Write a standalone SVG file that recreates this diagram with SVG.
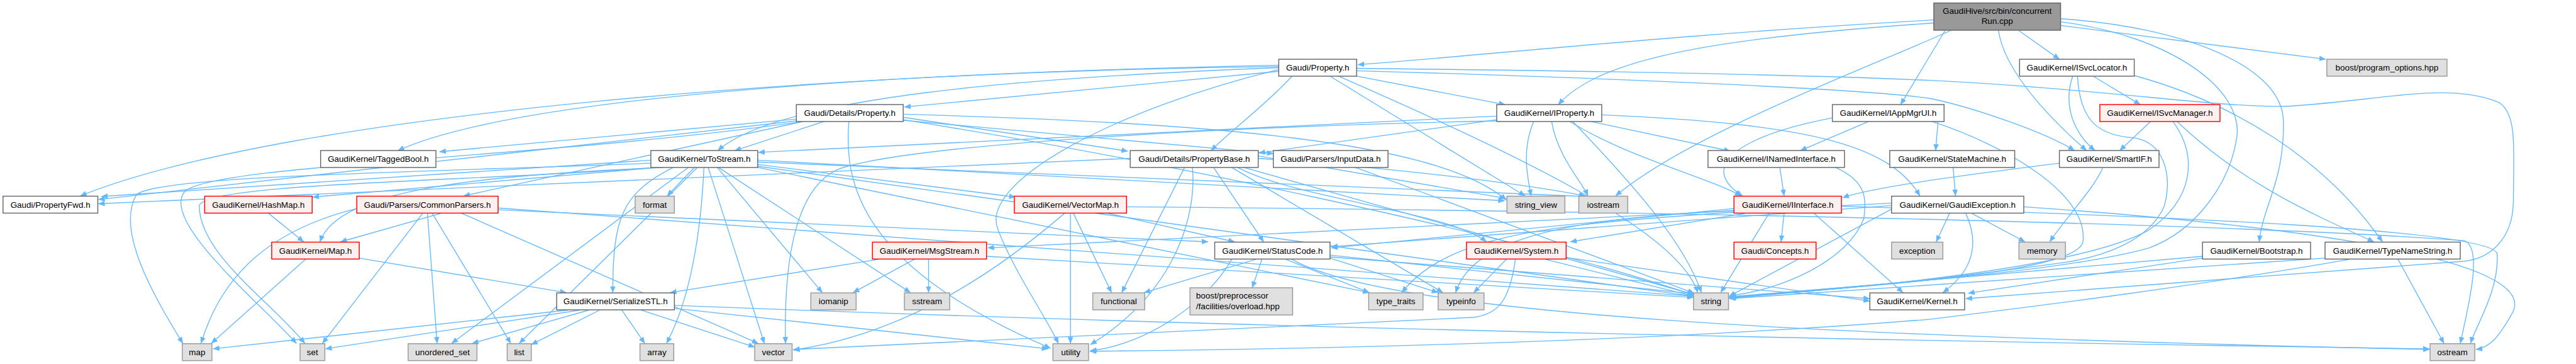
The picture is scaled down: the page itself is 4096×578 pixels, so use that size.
<svg xmlns="http://www.w3.org/2000/svg" width="4096" height="578" viewBox="0 0 4096 578">
<style>
text{font-family:"Liberation Sans",Arial,sans-serif;font-size:14px;fill:#000;text-anchor:middle}
.n rect{fill:#fff;stroke:#666;stroke-width:1.5}
.r rect{fill:#fff0f0;stroke:#f00;stroke-width:1.5}
.s rect{fill:#e0e0e0;stroke:#999;stroke-width:1.5}
.m rect{fill:#999;stroke:#666;stroke-width:1.5}
#edges path{fill:none;stroke:#63b8ff;stroke-width:1.4;marker-end:url(#a)}
</style>
<defs>
<marker id="a" markerUnits="userSpaceOnUse" markerWidth="11" markerHeight="9" viewBox="0 0 11 9" refX="10.5" refY="4.5" orient="auto"><path d="M0,0 L11,4.5 L0,9 z" fill="#63b8ff"/></marker>
</defs>
<rect width="4096" height="578" fill="#fff"/>
<g transform="scale(0.96)">
<g id="edges">
<path d="M3203,33 C2800,55 2450,92 2249,107"/>
<path d="M3203,38 C2850,62 2650,95 2581,173"/>
<path d="M3222,50 L3148,173"/>
<path d="M3310,50 C3320,120 3400,200 3456,249"/>
<path d="M3343,50 L3411,98"/>
<path d="M3413,42 L3852,98"/>
<path d="M3413,31 C3620,45 3780,110 3782,200 C3784,300 3748,340 3742,400"/>
<path d="M3232,50 C3100,110 2800,220 2676,324"/>
<path d="M3413,36 C3600,60 3715,150 3705,225 C3695,300 3640,380 3560,410 C3400,455 3000,478 2864,491"/>
<path d="M2118,118 L1498,177"/>
<path d="M2140,126 C2100,170 2040,215 2006,249"/>
<path d="M2118,112 C1700,128 1290,160 1189,249"/>
<path d="M2118,108 C1600,118 880,150 659,249"/>
<path d="M2118,110 C1400,118 480,185 133,324"/>
<path d="M2247,126 L2493,173"/>
<path d="M2203,126 L2526,324"/>
<path d="M2217,126 C2500,250 2780,380 2812,484"/>
<path d="M2118,115 C1850,180 1620,300 1653,380 C1680,450 1730,520 1753,568"/>
<path d="M2247,113 C2700,118 3000,124 3198,133 C3500,148 3700,182 3800,175 C3950,165 4060,135 4140,170 C4170,190 4163,250 4163,330 C4163,400 4120,428 4082,432 C3700,462 3400,484 3256,494"/>
<path d="M2247,117 C2700,130 3100,148 3198,163 C3270,178 3390,220 3436,249"/>
<path d="M1319,197 L728,251"/>
<path d="M1319,200 L163,330"/>
<path d="M1330,201 L768,324"/>
<path d="M1365,201 L1217,249"/>
<path d="M1496,194 L1868,250"/>
<path d="M1496,199 L2109,254"/>
<path d="M1406,201 C1398,300 1420,440 1740,576"/>
<path d="M1496,189 C2000,203 2380,232 2495,331"/>
<path d="M1496,198 C1900,262 2500,385 2805,488"/>
<path d="M1330,201 C900,262 340,272 305,318 C268,368 430,500 491,568"/>
<path d="M2635,201 L2866,250"/>
<path d="M2600,201 C2700,262 2820,290 2884,324"/>
<path d="M2479,198 L2085,253"/>
<path d="M2479,192 L1256,252"/>
<path d="M2540,201 C2520,250 2530,292 2536,324"/>
<path d="M2570,201 C2580,260 2620,300 2630,324"/>
<path d="M2605,201 C2700,300 2790,400 2818,484"/>
<path d="M2479,200 C2000,210 1500,240 1388,280 C1320,310 1298,420 1301,568"/>
<path d="M2653,190 C3000,205 3130,240 3180,324"/>
<path d="M3095,201 L2982,249"/>
<path d="M3210,201 L3206,249"/>
<path d="M3035,195 C2880,225 2810,275 2886,324"/>
<path d="M3200,201 C3320,240 3460,320 3450,400 C3440,452 3100,472 2864,492"/>
<path d="M3433,126 C3415,180 3440,225 3470,249"/>
<path d="M3441,126 C3445,200 3475,224 3535,228 C3585,236 3598,290 3585,340 C3560,400 3480,425 3420,434 C3200,465 3000,482 2865,493"/>
<path d="M3467,126 L3545,173"/>
<path d="M3535,125 C3700,170 3850,262 3946,400"/>
<path d="M3562,201 L3511,249"/>
<path d="M3599,201 C3642,260 3632,330 3560,380 C3450,442 3100,476 2865,491"/>
<path d="M3606,201 C3710,300 3820,350 3932,400"/>
<path d="M2948,277 L2955,324"/>
<path d="M3040,277 C3092,300 3092,330 3087,362 C3060,432 2950,480 2865,489"/>
<path d="M3235,277 L3239,324"/>
<path d="M3411,270 C3250,290 3100,310 3052,327"/>
<path d="M3483,277 C3470,310 3420,362 3395,400"/>
<path d="M2955,353 L2950,400"/>
<path d="M2872,345 L2205,410"/>
<path d="M2890,353 L2601,400"/>
<path d="M2872,351 C2600,370 2400,382 2322,484"/>
<path d="M2872,348 C2600,362 2440,392 2411,484"/>
<path d="M2930,353 L2850,484"/>
<path d="M3005,353 L3152,484"/>
<path d="M3050,341 C3600,358 4130,380 4136,420 C4140,480 4100,540 4092,568"/>
<path d="M3229,353 L3207,400"/>
<path d="M3266,353 L3354,400"/>
<path d="M3256,353 C3282,410 3262,452 3218,484"/>
<path d="M3133,346 L2864,490"/>
<path d="M3133,340 L2205,408"/>
<path d="M3133,336 L1636,410"/>
<path d="M3352,342 C3900,380 4210,440 4160,520 C4140,555 4125,575 4101,578"/>
<path d="M3648,427 L3260,485"/>
<path d="M3648,424 L2864,492"/>
<path d="M3972,429 L4048,568"/>
<path d="M3851,427 L2864,494"/>
<path d="M3891,429 C3600,480 3300,515 3198,528 C2800,560 2300,576 1805,581"/>
<path d="M1872,262 L163,337"/>
<path d="M1962,277 L1858,484"/>
<path d="M1975,277 C1982,350 1952,480 1806,570"/>
<path d="M2010,277 L2093,400"/>
<path d="M2084,258 L2494,328"/>
<path d="M2084,262 C2300,278 2500,300 2626,324"/>
<path d="M2060,277 L2805,487"/>
<path d="M2040,277 L2390,484"/>
<path d="M2050,277 C2150,330 2400,350 2462,400"/>
<path d="M2245,277 L2806,485"/>
<path d="M1078,265 L168,325"/>
<path d="M1090,277 L518,326"/>
<path d="M1100,277 C800,290 560,312 530,400"/>
<path d="M1078,270 C700,285 262,290 226,322 C198,370 230,452 303,568"/>
<path d="M1085,277 C800,300 340,302 330,340 C330,420 450,500 505,568"/>
<path d="M1140,277 L748,568"/>
<path d="M1155,277 L860,568"/>
<path d="M1115,277 C1030,320 1015,360 1015,484"/>
<path d="M1150,277 L1105,324"/>
<path d="M1166,277 C1160,400 1140,500 1104,568"/>
<path d="M1173,277 L1266,568"/>
<path d="M1188,277 L1362,484"/>
<path d="M1190,277 L1508,484"/>
<path d="M1255,272 L1682,326"/>
<path d="M1255,268 L2626,325"/>
<path d="M1255,265 L2492,332"/>
<path d="M1255,275 L2805,490"/>
<path d="M1255,277 L2268,484"/>
<path d="M730,353 L564,400"/>
<path d="M591,345 C450,380 368,452 333,568"/>
<path d="M700,353 L534,568"/>
<path d="M708,353 L724,568"/>
<path d="M716,353 L846,568"/>
<path d="M765,353 L1256,568"/>
<path d="M825,347 L2001,400"/>
<path d="M825,344 L2805,490"/>
<path d="M445,353 L503,400"/>
<path d="M506,429 L350,568"/>
<path d="M595,427 L938,484"/>
<path d="M940,513 L353,577"/>
<path d="M960,513 L539,577"/>
<path d="M975,513 L782,568"/>
<path d="M993,513 L880,570"/>
<path d="M1030,513 L1068,568"/>
<path d="M1062,513 L1250,574"/>
<path d="M1117,510 L1736,577"/>
<path d="M1117,505 C2000,540 3000,562 4024,577"/>
<path d="M1455,429 L1110,484"/>
<path d="M1514,429 L1413,484"/>
<path d="M1538,429 L1538,484"/>
<path d="M1634,424 L2805,492"/>
<path d="M1778,353 L1841,484"/>
<path d="M1773,353 L1773,568"/>
<path d="M1763,353 C1650,450 1500,552 1314,579"/>
<path d="M1836,353 L2045,400"/>
<path d="M1866,342 C2800,350 3700,370 4082,398 C4112,410 4090,500 4075,568"/>
<path d="M2080,429 L1895,484"/>
<path d="M2090,429 L2074,476"/>
<path d="M2040,429 C2000,500 1900,570 1806,580"/>
<path d="M2130,429 L2268,484"/>
<path d="M2203,422 L2805,486"/>
<path d="M2203,425 L3097,494"/>
<path d="M2140,429 C2300,520 3000,556 4024,578"/>
<path d="M2203,427 L2382,484"/>
<path d="M2495,429 L2441,484"/>
<path d="M2560,429 L2805,490"/>
<path d="M2594,426 L3097,498"/>
<path d="M2510,429 C2500,500 2480,520 2440,525 C2000,546 1500,570 1314,578"/>
</g>
<g id="n_main" class="m"><rect x="3203" y="5" width="210" height="45"/><text x="3308" y="23">GaudiHive/src/bin/concurrent</text><text x="3308" y="40">Run.cpp</text></g>
<g id="n_property" class="n"><rect x="2118" y="98" width="129" height="28"/><text x="2182.5" y="117">Gaudi/Property.h</text></g>
<g id="n_isvclocator" class="n"><rect x="3345" y="98" width="190" height="28"/><text x="3440" y="117">GaudiKernel/ISvcLocator.h</text></g>
<g id="n_boostpo" class="s"><rect x="3854" y="98" width="199" height="28"/><text x="3953.5" y="117">boost/program_options.hpp</text></g>
<g id="n_detailsproperty" class="n"><rect x="1319" y="173" width="177" height="28"/><text x="1407.5" y="192">Gaudi/Details/Property.h</text></g>
<g id="n_iproperty" class="n"><rect x="2479" y="173" width="174" height="28"/><text x="2566" y="192">GaudiKernel/IProperty.h</text></g>
<g id="n_iappmgrui" class="n"><rect x="3035" y="173" width="185" height="28"/><text x="3127.5" y="192">GaudiKernel/IAppMgrUI.h</text></g>
<g id="n_isvcmanager" class="r"><rect x="3478" y="173" width="199" height="28"/><text x="3577.5" y="192">GaudiKernel/ISvcManager.h</text></g>
<g id="n_taggedbool" class="n"><rect x="531" y="249" width="191" height="28"/><text x="626.5" y="268">GaudiKernel/TaggedBool.h</text></g>
<g id="n_tostream" class="n"><rect x="1078" y="249" width="177" height="28"/><text x="1166.5" y="268">GaudiKernel/ToStream.h</text></g>
<g id="n_propertybase" class="n"><rect x="1872" y="249" width="212" height="28"/><text x="1978" y="268">Gaudi/Details/PropertyBase.h</text></g>
<g id="n_inputdata" class="n"><rect x="2109" y="249" width="190" height="28"/><text x="2204" y="268">Gaudi/Parsers/InputData.h</text></g>
<g id="n_inamedinterface" class="n"><rect x="2829" y="249" width="226" height="28"/><text x="2942" y="268">GaudiKernel/INamedInterface.h</text></g>
<g id="n_statemachine" class="n"><rect x="3130" y="249" width="207" height="28"/><text x="3233.5" y="268">GaudiKernel/StateMachine.h</text></g>
<g id="n_smartif" class="n"><rect x="3411" y="249" width="165" height="28"/><text x="3493.5" y="268">GaudiKernel/SmartIF.h</text></g>
<g id="n_propertyfwd" class="n"><rect x="5" y="324.5" width="157" height="28"/><text x="83.5" y="343.5">Gaudi/PropertyFwd.h</text></g>
<g id="n_hashmap" class="r"><rect x="339" y="324.5" width="178" height="28"/><text x="428" y="343.5">GaudiKernel/HashMap.h</text></g>
<g id="n_commonparsers" class="r"><rect x="591" y="324.5" width="234" height="28"/><text x="708" y="343.5">Gaudi/Parsers/CommonParsers.h</text></g>
<g id="n_format" class="s"><rect x="1052" y="324.5" width="65" height="28"/><text x="1084.5" y="343.5">format</text></g>
<g id="n_vectormap" class="r"><rect x="1680" y="324.5" width="186" height="28"/><text x="1773" y="343.5">GaudiKernel/VectorMap.h</text></g>
<g id="n_string_view" class="s"><rect x="2496" y="324.5" width="96" height="28"/><text x="2544" y="343.5">string_view</text></g>
<g id="n_iostream" class="s"><rect x="2615" y="324.5" width="81" height="28"/><text x="2655.5" y="343.5">iostream</text></g>
<g id="n_iinterface" class="r"><rect x="2872" y="324.5" width="178" height="28"/><text x="2961" y="343.5">GaudiKernel/IInterface.h</text></g>
<g id="n_gaudiexception" class="n"><rect x="3133" y="324.5" width="219" height="28"/><text x="3242.5" y="343.5">GaudiKernel/GaudiException.h</text></g>
<g id="n_map_h" class="r"><rect x="450" y="400.5" width="145" height="28"/><text x="522.5" y="419.5">GaudiKernel/Map.h</text></g>
<g id="n_msgstream" class="r"><rect x="1445" y="400.5" width="189" height="28"/><text x="1539.5" y="419.5">GaudiKernel/MsgStream.h</text></g>
<g id="n_statuscode" class="n"><rect x="2012" y="400.5" width="191" height="28"/><text x="2107.5" y="419.5">GaudiKernel/StatusCode.h</text></g>
<g id="n_system" class="r"><rect x="2429" y="400.5" width="165" height="28"/><text x="2511.5" y="419.5">GaudiKernel/System.h</text></g>
<g id="n_concepts" class="r"><rect x="2872" y="400.5" width="136" height="28"/><text x="2940" y="419.5">Gaudi/Concepts.h</text></g>
<g id="n_exception" class="s"><rect x="3133" y="400.5" width="85" height="28"/><text x="3175.5" y="419.5">exception</text></g>
<g id="n_memory" class="s"><rect x="3344" y="400.5" width="77" height="28"/><text x="3382.5" y="419.5">memory</text></g>
<g id="n_bootstrap" class="n"><rect x="3648" y="400.5" width="179" height="28"/><text x="3737.5" y="419.5">GaudiKernel/Bootstrap.h</text></g>
<g id="n_typenamestring" class="n"><rect x="3851" y="400.5" width="224" height="28"/><text x="3963" y="419.5">GaudiKernel/TypeNameString.h</text></g>
<g id="n_serializestl" class="n"><rect x="922" y="484.5" width="195" height="28"/><text x="1019.5" y="503.5">GaudiKernel/SerializeSTL.h</text></g>
<g id="n_iomanip" class="s"><rect x="1343" y="484.5" width="75" height="28"/><text x="1380.5" y="503.5">iomanip</text></g>
<g id="n_sstream" class="s"><rect x="1498" y="484.5" width="75" height="28"/><text x="1535.5" y="503.5">sstream</text></g>
<g id="n_functional" class="s"><rect x="1810" y="484.5" width="86" height="28"/><text x="1853" y="503.5">functional</text></g>
<g id="n_boostpp" class="s"><rect x="1971" y="476" width="170" height="45"/><text x="1981" y="494" style="text-anchor:start">boost/preprocessor</text><text x="1981" y="511" style="text-anchor:start">/facilities/overload.hpp</text></g>
<g id="n_type_traits" class="s"><rect x="2267" y="484.5" width="90" height="28"/><text x="2312" y="503.5">type_traits</text></g>
<g id="n_typeinfo" class="s"><rect x="2382" y="484.5" width="76" height="28"/><text x="2420" y="503.5">typeinfo</text></g>
<g id="n_string" class="s"><rect x="2805" y="484.5" width="58" height="28"/><text x="2834" y="503.5">string</text></g>
<g id="n_kernel" class="n"><rect x="3097" y="484.5" width="157" height="28"/><text x="3175.5" y="503.5">GaudiKernel/Kernel.h</text></g>
<g id="n_map" class="s"><rect x="302" y="568.5" width="49" height="28"/><text x="326.5" y="587.5">map</text></g>
<g id="n_set" class="s"><rect x="497" y="568.5" width="41" height="28"/><text x="517.5" y="587.5">set</text></g>
<g id="n_unordered_set" class="s"><rect x="676" y="568.5" width="114" height="28"/><text x="733" y="587.5">unordered_set</text></g>
<g id="n_list" class="s"><rect x="840" y="568.5" width="40" height="28"/><text x="860" y="587.5">list</text></g>
<g id="n_array" class="s"><rect x="1060" y="568.5" width="56" height="28"/><text x="1088" y="587.5">array</text></g>
<g id="n_vector" class="s"><rect x="1250" y="568.5" width="62" height="28"/><text x="1281" y="587.5">vector</text></g>
<g id="n_utility" class="s"><rect x="1744" y="568.5" width="59" height="28"/><text x="1773.5" y="587.5">utility</text></g>
<g id="n_ostream" class="s"><rect x="4025" y="568.5" width="74" height="28"/><text x="4062" y="587.5">ostream</text></g>
</g>
</svg>
